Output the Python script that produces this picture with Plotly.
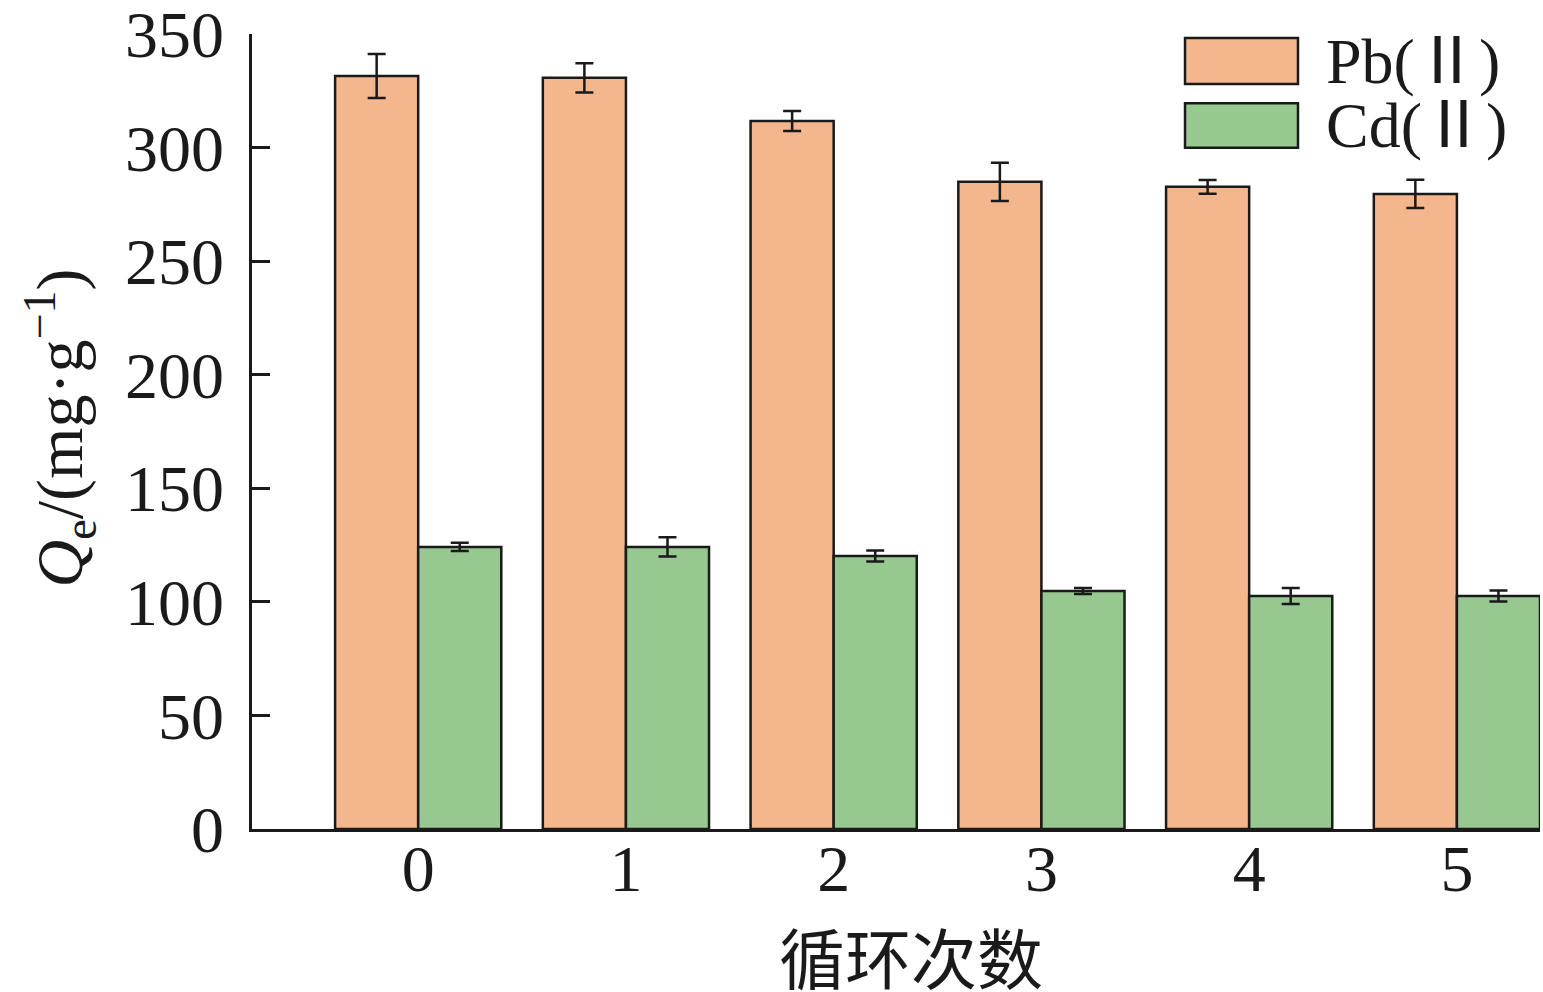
import plotly.graph_objects as go

cycles = [0, 1, 2, 3, 4, 5]
cycle_labels = ["0", "1", "2", "3", "4", "5"]
pb_values = [331.5, 330.7, 311.7, 284.9, 282.7, 279.6]
pb_errors = [9.7, 6.4, 4.4, 8.4, 3.0, 6.2]
cd_values = [124.2, 124.2, 120.2, 104.8, 102.6, 102.6]
cd_errors = [1.8, 4.2, 2.4, 1.3, 3.5, 2.4]
y_ticks = [0, 50, 100, 150, 200, 250, 300, 350]

PB_COLOR = "#F4B68D"
CD_COLOR = "#96C88F"
EDGE = "#1a1a1a"
SERIF = "Liberation Serif, Times New Roman, Noto Sans CJK SC, serif"

fig = go.Figure()
fig.add_trace(go.Bar(
    x=cycles, y=pb_values, name="Pb(Ⅱ)",
    marker=dict(color=PB_COLOR, line=dict(color=EDGE, width=2.5)),
    error_y=dict(type="data", array=pb_errors, color=EDGE, thickness=2.5, width=9),
    showlegend=False,
))
fig.add_trace(go.Bar(
    x=cycles, y=cd_values, name="Cd(Ⅱ)",
    marker=dict(color=CD_COLOR, line=dict(color=EDGE, width=2.5)),
    error_y=dict(type="data", array=cd_errors, color=EDGE, thickness=2.5, width=9),
    showlegend=False,
))

fig.update_layout(
    width=1543, height=992,
    margin=dict(l=252, r=3, t=34, b=163),
    paper_bgcolor="white", plot_bgcolor="white",
    barmode="group", bargap=0.2, bargroupgap=0,
    font=dict(family=SERIF, size=66, color="#1a1a1a"),
    xaxis=dict(
        range=[-0.8, 5.4], tickmode="array", tickvals=cycles, ticktext=cycle_labels,
        showline=True, linecolor=EDGE, linewidth=2.5, ticks="", showgrid=False,
        zeroline=False, tickfont=dict(family=SERIF, size=66), ticklabelstandoff=-20,
        automargin=False, ticklabeloverflow="allow",
    ),
    yaxis=dict(
        range=[0, 350], tickmode="array", tickvals=y_ticks,
        showline=True, linecolor=EDGE, linewidth=2.5, ticks="inside", ticklen=18,
        tickwidth=2.5, tickcolor=EDGE, showgrid=False, zeroline=False,
        tickfont=dict(family=SERIF, size=66), ticklabelstandoff=12,
        automargin=False, ticklabeloverflow="allow",
    ),
)

# Axis titles
fig.add_annotation(
    text="<i>Q</i><sub>e</sub>/(mg·g<sup>−1</sup>)", textangle=-90,
    xref="paper", yref="paper", x=-0.149, y=0.504, xanchor="center", yanchor="middle",
    showarrow=False, font=dict(family=SERIF, size=66, color="#1a1a1a"),
)
fig.add_annotation(
    text="循环次数", xref="paper", yref="paper", x=0.512, y=-0.158,
    xanchor="center", yanchor="middle", showarrow=False,
    font=dict(family="Noto Sans CJK SC, serif", size=66, color="#1a1a1a"),
)

# Custom legend
legend_items = [("Pb(Ⅱ)", PB_COLOR, 0.995, 0.937), ("Cd(Ⅱ)", CD_COLOR, 0.913, 0.857)]
for label, color, y1, y0 in legend_items:
    fig.add_shape(type="rect", xref="paper", yref="paper", x0=0.7244, x1=0.8121,
                  y0=y0, y1=y1, fillcolor=color, line=dict(color=EDGE, width=2.5))
    fig.add_annotation(text=label, xref="paper", yref="paper", x=0.832, y=(y0 + y1) / 2,
                       xanchor="left", yanchor="middle", showarrow=False,
                       font=dict(family=SERIF, size=64, color="#1a1a1a"))

fig.write_html(
    "out.html",
    config={"displayModeBar": False},
    post_script="document.body.style.margin='0px';document.body.style.overflow='hidden';",
)
